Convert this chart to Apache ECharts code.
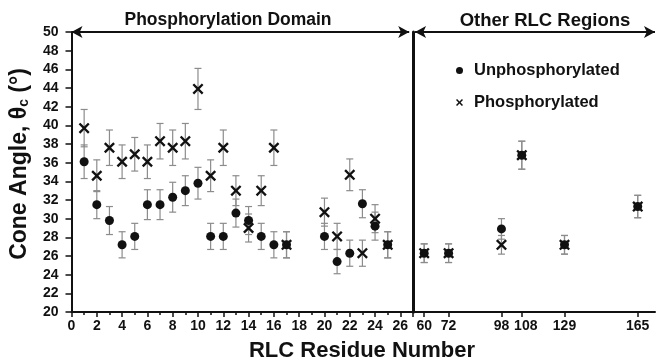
<!DOCTYPE html>
<html>
<head>
<meta charset="utf-8">
<script src="https://cdn.jsdelivr.net/npm/echarts@6/dist/echarts.min.js"></script>
<style>html,body{margin:0;padding:0;background:#fff}#c{width:656px;height:362px}</style>
</head>
<body>
<div id="c"></div>
<script>
// ---- data ----
const leftResidues = [1,2,3,4,5,6,7,8,9,10,11,12,13,14,15,16,17,20,21,22,23,24,25];
const unphosLeft    = [36.1,31.5,29.8,27.2,28.1,31.5,31.5,32.3,33.0,33.8,28.1,28.1,30.6,29.8,28.1,27.2,27.2,28.1,25.4,26.3,31.6,29.2,27.2];
const unphosLeftErr = [1.8,1.5,1.5,1.4,1.4,1.6,1.6,1.6,1.6,1.7,1.4,1.4,1.5,1.5,1.4,1.4,1.4,1.4,1.3,1.4,1.5,1.5,1.4];
const phosLeft      = [39.7,34.6,37.6,36.1,36.9,36.1,38.3,37.6,38.3,43.9,34.6,37.6,33.0,29.0,33.0,37.6,27.2,30.7,28.1,34.7,26.3,30.0,27.2];
const phosLeftErr   = [2.0,1.7,1.9,1.8,1.8,1.8,1.9,1.9,1.9,2.2,1.7,1.9,1.6,1.5,1.6,1.9,1.4,1.5,1.4,1.7,1.4,1.5,1.4];

const rightResidues  = [60,72,98,108,129,165];
const unphosRight    = [26.3,26.3,28.9,36.8,27.2,31.3];
const unphosRightErr = [1.0,1.0,1.1,1.5,1.0,1.2];
const phosRight      = [26.3,26.3,27.2,36.8,27.2,31.3];
const phosRightErr   = [1.0,1.0,1.0,1.5,1.0,1.2];

const rightTickValues = [60,72,98,108,129,165];
const leftRegionLabel = 'Phosphorylation Domain';
const rightRegionLabel = 'Other RLC Regions';

// ---- helpers ----
const pts = (xs, ys) => xs.map((x, i) => [x, ys[i]]);
const errPts = (xs, ys, es) => xs.map((x, i) => [x, ys[i], es[i]]);
const XPATH = 'path://M0,1.5 L1.5,0 L5,3.5 L8.5,0 L10,1.5 L6.5,5 L10,8.5 L8.5,10 L5,6.5 L1.5,10 L0,8.5 L3.5,5 Z';
const INK = '#111';

function errRender(params, api) {
  const x = api.value(0), y = api.value(1), e = api.value(2);
  const top = api.coord([x, y + e]);
  const bot = api.coord([x, y - e]);
  const w = 3.5;
  const st = { stroke: '#8c8c8c', lineWidth: 1.2 };
  return {
    type: 'group',
    children: [
      { type: 'line', shape: { x1: top[0], y1: top[1], x2: bot[0], y2: bot[1] }, style: st },
      { type: 'line', shape: { x1: top[0] - w, y1: top[1], x2: top[0] + w, y2: top[1] }, style: st },
      { type: 'line', shape: { x1: bot[0] - w, y1: bot[1], x2: bot[0] + w, y2: bot[1] }, style: st }
    ]
  };
}
function errSeries(xi, xs, ys, es) {
  return { type: 'custom', xAxisIndex: xi, yAxisIndex: xi, renderItem: errRender,
           data: errPts(xs, ys, es), z: 1, silent: true,
           encode: { x: 0, y: 1 } };
}
const labelFont = { fontFamily: 'Liberation Sans, Arial, sans-serif', fontWeight: 'bold', fontSize: 14, color: INK };
const axLine = (w) => ({ show: true, lineStyle: { color: INK, width: w } });
const arrowLine = (x0, x1) => ({
  silent: true, animation: false, symbol: ['arrow', 'arrow'], symbolSize: [9, 11],
  label: { show: false },
  lineStyle: { color: INK, width: 2, type: 'solid' },
  data: [[{ coord: [x0, 50] }, { coord: [x1, 50] }]]
});

const chart = echarts.init(document.getElementById('c'), null, { renderer: 'canvas' });
chart.setOption({
  animation: false,
  backgroundColor: '#fff',
  textStyle: { fontFamily: 'Liberation Sans, Arial, sans-serif' },
  title: [
    { text: leftRegionLabel, left: 228, top: 11, padding: 0, textAlign: 'center',
      textStyle: { fontSize: 17.5, fontWeight: 'bold', color: INK } },
    { text: rightRegionLabel, left: 545, top: 11, padding: 0, textAlign: 'center',
      textStyle: { fontSize: 18.5, fontWeight: 'bold', color: INK } },
    { text: 'RLC Residue Number', left: 362, top: 340, padding: 0, textAlign: 'center',
      textStyle: { fontSize: 22, fontWeight: 'bold', color: INK } }
  ],
  legend: {
    orient: 'vertical', left: 451, top: 56, itemWidth: 7, itemHeight: 7, itemGap: 13,
    textStyle: { fontSize: 16.5, fontWeight: 'bold', color: INK, padding: [0, 0, 0, 6], lineHeight: 19 },
    data: [{ name: 'Unphosphorylated', icon: 'circle' }, { name: 'Phosphorylated', icon: XPATH }]
  },
  grid: [
    { left: 70, top: 32, width: 343, bottom: 50 },
    { left: 413, top: 32, right: 1, bottom: 50 }
  ],
  xAxis: [
    { type: 'value', gridIndex: 0, min: 0, max: 27, interval: 2,
      axisLine: axLine(2), splitLine: { show: false },
      axisTick: { show: true, inside: false, length: 5, lineStyle: { color: INK, width: 1.5 } },
      minorTick: { show: true, splitNumber: 2, length: 3, lineStyle: { color: INK, width: 1.5 } },
      axisLabel: Object.assign({ margin: 7, showMaxLabel: false }, labelFont) },
    { type: 'value', gridIndex: 1, min: 54.5, max: 173.5,
      axisLine: axLine(2), splitLine: { show: false },
      axisTick: { show: true, length: 5, customValues: rightTickValues, lineStyle: { color: INK, width: 1.5 } },
      axisLabel: Object.assign({ margin: 7, customValues: rightTickValues,
        formatter: (v) => (v === 108 ? '{r|' + v + '}' : String(v)),
        rich: { r: { fontFamily: 'Liberation Sans, Arial, sans-serif', fontWeight: 'bold', fontSize: 14, color: INK, padding: [0, 0, 0, 8] } }
      }, labelFont) }
  ],
  yAxis: [
    { type: 'value', gridIndex: 0, min: 20, max: 50, interval: 2,
      axisLine: axLine(2), splitLine: { show: false },
      axisTick: { show: true, length: 6, lineStyle: { color: INK, width: 1.5 } },
      axisLabel: Object.assign({ margin: 13 }, labelFont),
      name: 'Cone Angle, θ{sub|c} (°)', nameLocation: 'middle', nameGap: 40,
      nameTextStyle: { fontSize: 23, fontWeight: 'bold', color: INK, padding: [0, 0, 0, 16],
        rich: { sub: { fontSize: 14, fontWeight: 'bold', color: INK, verticalAlign: 'bottom', lineHeight: 24 } } } },
    { type: 'value', gridIndex: 1, min: 20, max: 50, interval: 2,
      axisLine: axLine(3), axisTick: { show: false }, axisLabel: { show: false }, splitLine: { show: false } }
  ],
  series: [
    errSeries(0, leftResidues, unphosLeft, unphosLeftErr),
    errSeries(0, leftResidues, phosLeft, phosLeftErr),
    errSeries(1, rightResidues, unphosRight, unphosRightErr),
    errSeries(1, rightResidues, phosRight, phosRightErr),
    { name: 'Unphosphorylated', type: 'scatter', xAxisIndex: 0, yAxisIndex: 0, z: 3,
      symbol: 'circle', symbolSize: 9, itemStyle: { color: INK, opacity: 1 },
      data: pts(leftResidues, unphosLeft), markLine: arrowLine(0, 26.7) },
    { name: 'Unphosphorylated', type: 'scatter', xAxisIndex: 1, yAxisIndex: 1, z: 3,
      symbol: 'circle', symbolSize: 9, itemStyle: { color: INK, opacity: 1 },
      data: pts(rightResidues, unphosRight), markLine: arrowLine(55.5, 173.5) },
    { name: 'Phosphorylated', type: 'scatter', xAxisIndex: 0, yAxisIndex: 0, z: 4,
      symbol: XPATH, symbolSize: 11, itemStyle: { color: INK, opacity: 1 },
      data: pts(leftResidues, phosLeft) },
    { name: 'Phosphorylated', type: 'scatter', xAxisIndex: 1, yAxisIndex: 1, z: 4,
      symbol: XPATH, symbolSize: 11, itemStyle: { color: INK, opacity: 1 },
      data: pts(rightResidues, phosRight) }
  ]
});
</script>
</body>
</html>
